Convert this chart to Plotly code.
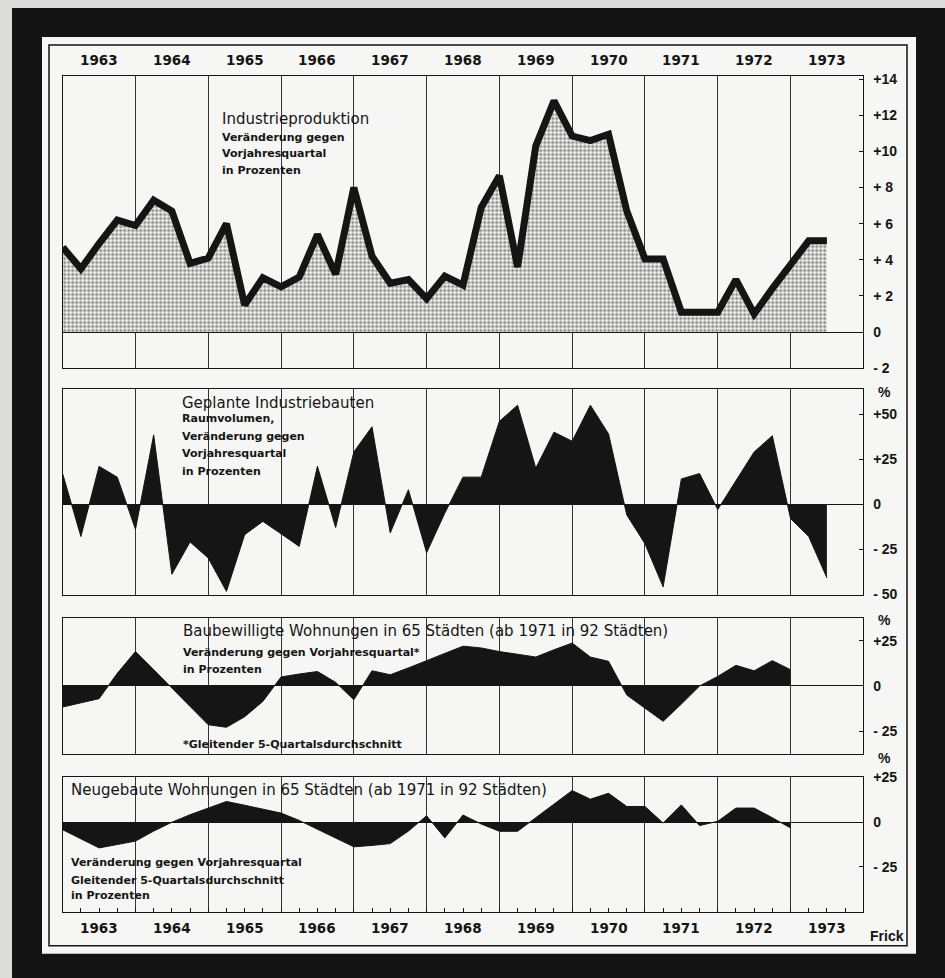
import plotly.graph_objects as go

# ---------------- data ----------------
years = [1963, 1964, 1965, 1966, 1967, 1968, 1969, 1970, 1971, 1972, 1973]
year_labels = ["1963", "1964", "1965", "1966", "1967", "1968", "1969", "1970", "1971", "1972", "1973"]

# quarterly positions (start 1963.0, step one quarter)
quarters = [1963 + i / 4 for i in range(43)]

industrieproduktion = [4.7, 3.5, 4.9, 6.2, 5.9, 7.3, 6.7, 3.8, 4.1, 6.0, 1.5, 3.0, 2.5, 3.05,
                       5.4, 3.2, 8.0, 4.2, 2.7, 2.9, 1.85, 3.1, 2.6, 6.9, 8.65, 3.6, 10.3, 12.8,
                       10.85, 10.6, 10.95, 6.7, 4.05, 4.05, 1.1, 1.1, 1.1, 2.9, 1.0, 2.4, 3.7,
                       5.05, 5.05]

industriebauten = [16.8, -18, 21, 15, -14, 38.5, -39, -21, -30, -48.5, -17, -9.6, -16.5, -23.5,
                   21, -13, 29, 43, -16, 8, -27, -5, 15, 15, 46, 55, 20, 40, 35, 55, 39, -6,
                   -22, -46, 14, 17, -3, 13, 29, 38, -8, -18, -41]

baubewilligte = [-11.6, -9.3, -7, 7, 19, 9, -1, -11, -21.4, -22.8, -17, -8.5, 5, 6.6, 8, 2,
                 -7.6, 8.4, 6.2, 10, 14, 18, 22, 21, 19, 17.5, 16, 20, 23.7, 16, 13.6, -5,
                 -12, -19.5, -10, 0, 5.3, 11.4, 8.4, 14, 9]

neugebaute = [-4.2, -9.5, -14.4, -12.5, -10.6, -5, 0, 4.2, 8, 11.6, 9.5, 7.3, 5.1, 1, -3.8,
              -8.6, -13.8, -13, -12, -5, 3.6, -8.8, 4, -1, -5.1, -5.1, 2.5, 10, 17.7, 12.9,
              16.2, 8.8, 8.8, -0.5, 9.7, -1.9, 0.5, 7.9, 7.9, 2.5, -3.2]

ticks1_vals = [14, 12, 10, 8, 6, 4, 2, 0, -2]
ticks1_text = ["+14", "+12", "+10", "+ 8", "+ 6", "+ 4", "+ 2", "0", "- 2"]
ticks2_vals = [50, 25, 0, -25, -50]
ticks2_text = ["+50", "+25", "0", "- 25", "- 50"]
ticks3_vals = [25, 0, -25]
ticks3_text = ["+25", "0", "- 25"]

# ---------------- geometry helpers ----------------
W, H = 945, 978
SY = 0.984     # vertical scale of the photographed page
OY = 8.0       # vertical offset of the photographed page


def px(x):
    return x / W


def py(y):
    return 1 - (y - OY) / (SY * H)


INK = "#151515"
PANEL = "#f6f6f4"
FONT = "DejaVu Sans, Liberation Sans, Arial, sans-serif"
TICKFONT = "Liberation Sans, Arial, sans-serif"

fig = go.Figure()

# Panel 1: Industrieproduktion (stippled area, thick line)
fig.add_trace(go.Scatter(
    x=quarters[:len(industrieproduktion)], y=industrieproduktion,
    mode="lines", line=dict(color=INK, width=7),
    fill="tozeroy", fillcolor="rgba(0,0,0,0)",
    fillpattern=dict(shape=".", fgcolor="#1a1a1a", bgcolor=PANEL, size=4, solidity=0.5),
    xaxis="x", yaxis="y", hoverinfo="skip", showlegend=False))

# Panel 2-4: solid black areas
for vals, xa, ya in [(industriebauten, "x2", "y2"),
                     (baubewilligte, "x3", "y3"),
                     (neugebaute, "x4", "y4")]:
    fig.add_trace(go.Scatter(
        x=quarters[:len(vals)], y=vals, mode="lines",
        line=dict(color=INK, width=1), fill="tozeroy", fillcolor=INK,
        xaxis=xa, yaxis=ya, hoverinfo="skip", showlegend=False))

xdom = [px(62.7), px(863.3)]
panels = [
    (76.5, 368.3, [-2, 14.15], ticks1_vals, ticks1_text),
    (389.3, 595.0, [-50.4, 63.9], ticks2_vals, ticks2_text),
    (618.3, 754.0, [-37.4, 37.5], ticks3_vals, ticks3_text),
    (777.3, 912.7, [-50.5, 25.3], ticks3_vals, ticks3_text),
]

layout = dict(
    width=W, height=H, margin=dict(l=0, r=0, t=0, b=0),
    paper_bgcolor="#dcdcda", plot_bgcolor=PANEL,
    font=dict(family=FONT, color=INK),
    showlegend=False,
)

for k, (top, bot, rng, tv, tt) in enumerate(panels, start=1):
    sx = "" if k == 1 else str(k)
    xa = dict(domain=xdom, range=[1963, 1974], anchor="y" + sx,
              tick0=1963, dtick=1, showgrid=True, gridcolor="#333333", gridwidth=1,
              showticklabels=False, showline=True, mirror=True, linecolor=INK, linewidth=1.3,
              zeroline=False, ticks="")
    if k == 4:
        xa.update(ticks="inside", ticklen=4, tickcolor=INK,
                  minor=dict(tick0=1963, dtick=0.25, ticks="inside", ticklen=4,
                             tickcolor=INK, showgrid=False))
    ya = dict(domain=[py(bot), py(top)], range=rng, anchor="x" + sx, side="right",
              tickvals=tv, ticktext=tt, ticks="inside", ticklen=4, tickcolor=INK,
              tickfont=dict(family=TICKFONT, size=14, color=INK, weight="bold"),
              ticklabelstandoff=6,
              showgrid=False, zeroline=True, zerolinecolor=INK, zerolinewidth=1,
              showline=True, mirror=True, linecolor=INK, linewidth=1.3)
    layout["xaxis" + sx] = xa
    layout["yaxis" + sx] = ya

fig.update_layout(**layout)

# ---------------- frame shapes ----------------
shapes = [
    dict(type="rect", xref="paper", yref="paper", x0=px(12), x1=1.05, y0=-0.05, y1=py(8),
         fillcolor="#141414", line=dict(width=0), layer="below"),
    dict(type="rect", xref="paper", yref="paper", x0=px(42), x1=px(916), y0=py(954), y1=py(37),
         fillcolor=PANEL, line=dict(width=0), layer="below"),
    dict(type="rect", xref="paper", yref="paper", x0=px(49), x1=px(907), y0=py(946), y1=py(45),
         fillcolor="rgba(0,0,0,0)", line=dict(color=INK, width=1.5), layer="below"),
]
fig.update_layout(shapes=shapes)

# ---------------- text ----------------
ann = []


def text(x, y, s, size=12, bold=False, xanchor="left", family=FONT):
    ann.append(dict(xref="paper", yref="paper", x=px(x), y=py(y), text=s, showarrow=False,
                    xanchor=xanchor, yanchor="middle",
                    font=dict(family=family, size=size, color=INK,
                              weight="bold" if bold else "normal")))


TITLE = 15
SUB = 11

# year labels top and bottom
for y, lab in zip(years, year_labels):
    ann.append(dict(xref="x", yref="paper", x=y + 0.5, y=py(60), text=lab, showarrow=False,
                    xanchor="center", yanchor="middle",
                    font=dict(family=FONT, size=13.5, color=INK, weight="bold")))
    ann.append(dict(xref="x4", yref="paper", x=y + 0.5, y=py(928), text=lab, showarrow=False,
                    xanchor="center", yanchor="middle",
                    font=dict(family=FONT, size=13.5, color=INK, weight="bold")))

# Panel 1
text(220, 119, "Industrieproduktion", size=TITLE)
text(220, 137.7, "Veränderung gegen", size=SUB, bold=True)
text(220, 154, "Vorjahresquartal", size=SUB, bold=True)
text(220, 170.7, "in Prozenten", size=SUB, bold=True)

# Panel 2
text(179.5, 403.3, "Geplante Industriebauten", size=TITLE)
text(179.5, 418.5, "Raumvolumen,", size=SUB, bold=True)
text(179.5, 436.5, "Veränderung gegen", size=SUB, bold=True)
text(179.5, 454, "Vorjahresquartal", size=SUB, bold=True)
text(179.5, 471.7, "in Prozenten", size=SUB, bold=True)

# Panel 3
text(181, 631.7, "Baubewilligte Wohnungen in 65 Städten (ab 1971 in 92 Städten)", size=TITLE)
text(181, 652.7, "Veränderung gegen Vorjahresquartal*", size=SUB, bold=True)
text(181, 669.3, "in Prozenten", size=SUB, bold=True)
text(181, 745, "*Gleitender 5-Quartalsdurchschnitt", size=SUB, bold=True)

# Panel 4
text(69.3, 790.7, "Neugebaute Wohnungen in 65 Städten (ab 1971 in 92 Städten)", size=TITLE)
text(69.3, 863.3, "Veränderung gegen Vorjahresquartal", size=SUB, bold=True)
text(69.3, 881.2, "Gleitender 5-Quartalsdurchschnitt", size=SUB, bold=True)
text(69.3, 895.5, "in Prozenten", size=SUB, bold=True)

# percent signs above right axes
for yy in [391.7, 620, 758]:
    text(884, yy, "%", size=14, bold=True, xanchor="center", family=TICKFONT)

text(886.7, 936.7, "Frick", size=14, bold=True, xanchor="center", family=TICKFONT)

fig.update_layout(annotations=ann)

page_css = (
    "document.documentElement.style.margin='0';"
    "document.body.style.margin='0';"
    "document.body.style.overflow='hidden';"
    "document.body.style.background='#141414';"
)

fig.write_html("out.html", config={"displayModeBar": False}, post_script=page_css)
